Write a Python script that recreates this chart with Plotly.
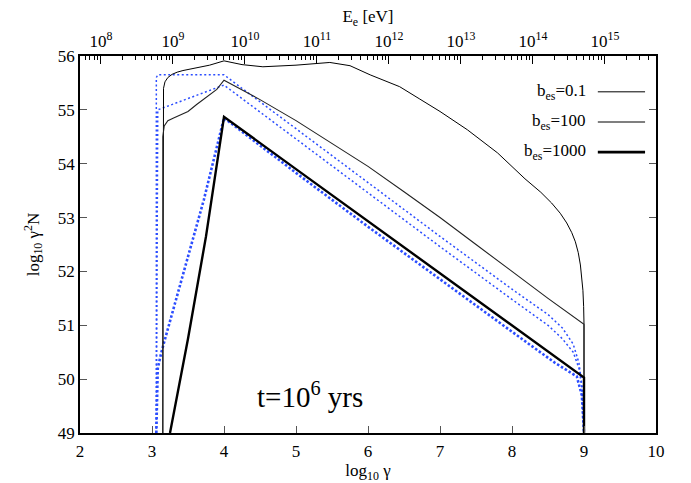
import numpy as np
import plotly.graph_objects as go

# ---- data ----
# b_es = 0.1 (thin black)
gamma_01 = [3.15, 3.15, 3.16, 3.18, 3.22, 3.28, 3.35, 3.43, 3.6, 3.8, 4.0, 4.25, 4.54, 5.0, 5.47,
            5.75, 6.03, 6.44, 6.72, 7.0, 7.38, 7.8, 8.18, 8.4, 8.55, 8.67, 8.76, 8.83, 8.88, 8.92,
            8.95, 8.97, 8.985, 8.995, 9.0, 9.0]
logN_01 = [49.0, 55.2, 55.4, 55.52, 55.6, 55.66, 55.7, 55.73, 55.77, 55.83, 55.91, 55.84, 55.8, 55.83, 55.88,
           55.82, 55.65, 55.43, 55.2, 54.97, 54.63, 54.2, 53.72, 53.47, 53.27, 53.08, 52.9, 52.72, 52.55, 52.35,
           52.12, 51.9, 51.65, 51.35, 51.02, 49.0]

# b_es = 100 (thin black)
gamma_100 = [3.15, 3.15, 3.17, 3.22, 3.3, 3.5, 3.62, 3.8, 3.9, 4.0, 4.5, 5.0, 5.5, 6.0, 6.5, 7.0,
             7.5, 8.0, 8.5, 9.0, 9.0]
logN_100 = [49.0, 54.5, 54.7, 54.8, 54.85, 54.97, 55.1, 55.27, 55.38, 55.55, 55.19, 54.8, 54.38, 53.95,
            53.48, 53.0, 52.5, 52.0, 51.5, 51.02, 49.0]

# b_es = 1000 (thick black)
gamma_1000 = [3.25, 3.5, 3.75, 4.0, 5.0, 6.0, 7.0, 8.0, 9.0, 9.0]
logN_1000 = [49.0, 50.75, 52.65, 54.87, 53.9, 52.93, 51.96, 50.99, 50.03, 49.0]

# blue dotted companions
gamma_b1 = [3.06, 3.06, 3.08, 4.0, 5.0, 6.0, 7.0, 8.0, 8.5, 8.7, 8.85, 8.93, 8.97, 9.0]
logN_b1 = [49.0, 55.6, 55.65, 55.65, 54.65, 53.65, 52.65, 51.67, 51.2, 50.95, 50.65, 50.3, 49.9, 49.0]

gamma_b2 = [3.06, 3.08, 4.0, 5.0, 6.0, 7.0, 8.0, 8.5, 8.7, 8.85, 8.93, 8.97, 9.0]
logN_b2 = [49.0, 55.0, 55.46, 54.46, 53.46, 52.46, 51.48, 51.0, 50.75, 50.5, 50.2, 49.85, 49.0]

gamma_b3 = [3.06, 3.08, 3.13, 3.72, 4.0, 5.0, 6.0, 7.0, 8.0, 8.6, 8.9, 8.97, 9.0]
logN_b3 = [49.0, 50.2, 50.5, 53.33, 54.85, 53.83, 52.83, 51.85, 50.88, 50.3, 50.05, 49.7, 49.0]

x_ticks = [2, 3, 4, 5, 6, 7, 8, 9, 10]
y_ticks = [49, 50, 51, 52, 53, 54, 55, 56]
e_exponents = [8, 9, 10, 11, 12, 13, 14, 15]
legend_labels = ["b<sub>es</sub>=0.1", "b<sub>es</sub>=100", "b<sub>es</sub>=1000"]

LOG_MEC2 = np.log10(0.511e6)  # electron rest energy in eV

FONT = "Liberation Serif, Times New Roman, serif"
BLUE = "#2b4dff"
FS = 17

fig = go.Figure()

def add(x, y, color, width, dash="solid"):
    fig.add_trace(go.Scatter(x=x, y=y, mode="lines", showlegend=False,
                             line=dict(color=color, width=width, dash=dash),
                             hoverinfo="skip"))

add(gamma_b1, logN_b1, BLUE, 1.5, "2px,2.5px")
add(gamma_b2, logN_b2, BLUE, 1.5, "2px,2.5px")
add(gamma_b3, logN_b3, BLUE, 2.6, "2.5px,2px")
add(gamma_01, logN_01, "black", 1.0)
add(gamma_100, logN_100, "#222222", 1.1)
add(gamma_1000, logN_1000, "black", 2.4)

# invisible trace to activate the top (energy) axis
fig.add_trace(go.Scatter(x=[2 + LOG_MEC2, 10 + LOG_MEC2], y=[49, 49], xaxis="x2", mode="lines",
                         line=dict(width=0), showlegend=False, hoverinfo="skip"))

minor_vals = []
for n in range(7, 16):
    for k in range(2, 10):
        v = n + np.log10(k)
        if 2 + LOG_MEC2 <= v <= 10 + LOG_MEC2:
            minor_vals.append(v)

fig.update_layout(
    width=691, height=483,
    margin=dict(l=80, r=35, t=56, b=50, autoexpand=False),
    paper_bgcolor="white", plot_bgcolor="white",
    font=dict(family=FONT, size=FS, color="black"),
    xaxis=dict(range=[2, 10], tickmode="array", tickvals=x_ticks,
               ticks="inside", ticklen=7, tickcolor="#555", tickwidth=1,
               ticklabelstandoff=2, automargin=False,
               showline=True, linecolor="black", linewidth=1.5, mirror=False,
               showgrid=False, zeroline=False,
               title=dict(text="log<sub>10</sub> γ", standoff=6, font=dict(size=FS))),
    xaxis2=dict(range=[2 + LOG_MEC2, 10 + LOG_MEC2], overlaying="x", side="top",
                tickmode="array", tickvals=e_exponents,
                ticktext=[f"10<sup>{e}</sup>" for e in e_exponents],
                ticks="inside", ticklen=8, tickcolor="black", tickwidth=1,
                minor=dict(tickmode="array", tickvals=minor_vals, ticks="inside",
                           ticklen=4, tickcolor="black", tickwidth=1),
                automargin=False,
                showline=True, linecolor="black", linewidth=1.5,
                showgrid=False, zeroline=False,
                title=dict(text="E<sub>e</sub> [eV]", standoff=2, font=dict(size=FS))),
    yaxis=dict(range=[49, 56], tickmode="array", tickvals=y_ticks,
               ticks="inside", ticklen=7, tickcolor="#555", tickwidth=1,
               automargin=False,
               showline=True, linecolor="black", linewidth=1.5, mirror="ticks",
               showgrid=False, zeroline=False,
               title=dict(text="log<sub>10</sub> γ<sup>2</sup>N", standoff=14, font=dict(size=FS))),
    showlegend=False,
)

# time label
fig.add_annotation(x=5.2, y=49.7, xref="x", yref="y", text="t=10<sup>6</sup> yrs",
                   showarrow=False, font=dict(family=FONT, size=29, color="black"))

# manual legend (text right-aligned, sample to the right, gnuplot style)
leg_y = [0.905, 0.825, 0.745]
leg_w = [1.0, 1.6, 2.6]
leg_c = ["black", "#555555", "black"]
for lab, yy, w, c in zip(legend_labels, leg_y, leg_w, leg_c):
    fig.add_annotation(x=0.882, y=yy, xref="paper", yref="paper", text=lab,
                       showarrow=False, xanchor="right", yanchor="middle",
                       font=dict(family=FONT, size=FS, color="black"))
    fig.add_shape(type="line", xref="paper", yref="paper", x0=0.899, x1=0.981,
                  y0=yy, y1=yy, line=dict(color=c, width=w))

fig.write_html("out.html")
